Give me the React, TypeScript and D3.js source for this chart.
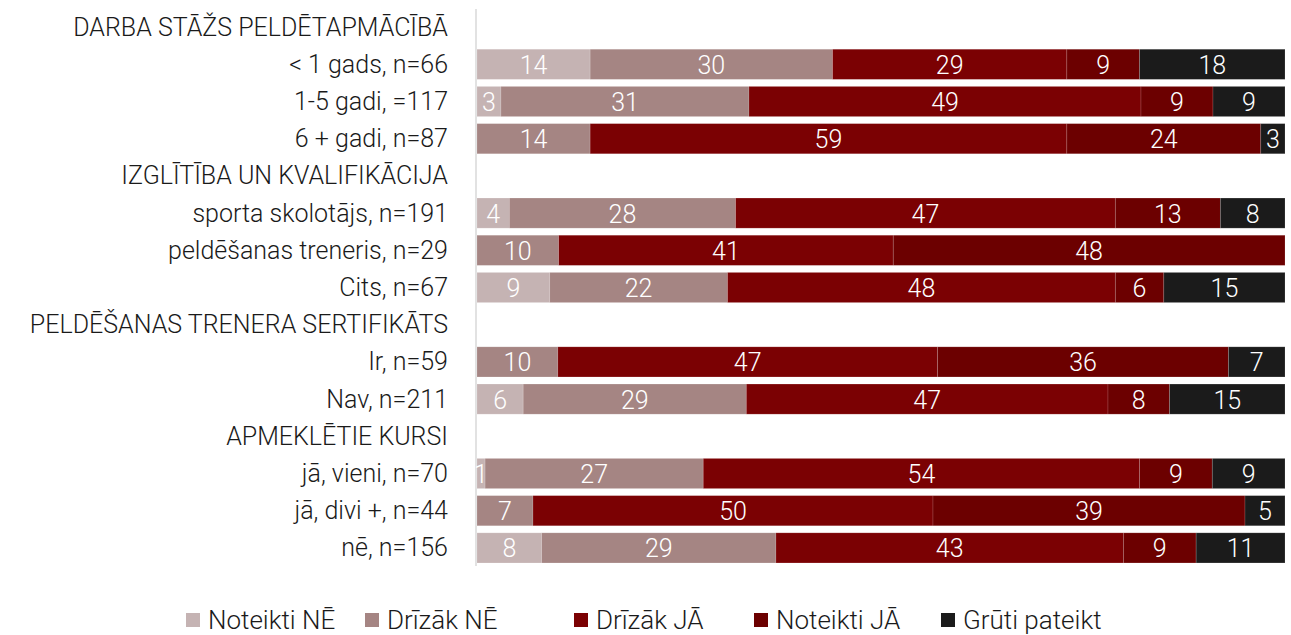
import React from "react";
import * as d3 from "d3";

// rows top to bottom; header rows have no bar
const rowLabels = [
  "DARBA STĀŽS PELDĒTAPMĀCĪBĀ",
  "< 1 gads, n=66",
  "1-5 gadi, =117",
  "6 + gadi, n=87",
  "IZGLĪTĪBA UN KVALIFIKĀCIJA",
  "sporta skolotājs, n=191",
  "peldēšanas treneris, n=29",
  "Cits, n=67",
  "PELDĒŠANAS TRENERA SERTIFIKĀTS",
  "Ir, n=59",
  "Nav, n=211",
  "APMEKLĒTIE KURSI",
  "jā, vieni, n=70",
  "jā, divi +, n=44",
  "nē, n=156",
];
const headerRows = [0, 4, 8, 11];

const seriesNames = ["Noteikti NĒ", "Drīzāk NĒ", "Drīzāk JĀ", "Noteikti JĀ", "Grūti pateikt"];
const seriesColors = ["#c5b3b3", "#a58583", "#7b0103", "#6c0000", "#1b1b1b"];

// values per bar row, in the same order as the series
const noteiktiNe = [14, 3, 0, 4, 0, 9, 0, 6, 1, 0, 8];
const drizakNe = [30, 31, 14, 28, 10, 22, 10, 29, 27, 7, 29];
const drizakJa = [29, 49, 59, 47, 41, 48, 47, 47, 54, 50, 43];
const noteiktiJa = [9, 9, 24, 13, 48, 6, 36, 8, 9, 39, 9];
const gruti = [18, 9, 3, 8, 0, 15, 7, 15, 9, 5, 11];

const W = 1291;
const H = 635;

export default function App() {
  const barRows = rowLabels.map((_, i) => i).filter((i) => !headerRows.includes(i));
  const cols = [noteiktiNe, drizakNe, drizakJa, noteiktiJa, gruti];
  const table = barRows.map((row, j) => {
    const d: any = { row };
    seriesNames.forEach((s, k) => (d[s] = cols[k][j]));
    return d;
  });

  const stacked = d3.stack<any>().keys(seriesNames).offset(d3.stackOffsetExpand)(table);

  const x = d3.scaleLinear().domain([0, 1]).range([477, 1285]);
  const y = d3.scaleBand<number>().domain(rowLabels.map((_, i) => i)).range([8.5, 566.5]).paddingInner(0.19).paddingOuter(0.095);

  const font = "Roboto, 'DejaVu Sans', sans-serif";
  const legendX = [186, 365, 574, 754, 941];

  return (
    <svg width={W} height={H} style={{ position: "absolute", left: 0, top: 0, background: "#fff" }}>
      <line x1={476} x2={476} y1={9} y2={566} stroke="#d9d9d9" strokeWidth={1.5} />
      {rowLabels.map((label, i) => (
        <text
          key={label}
          x={448}
          y={y(i)! + y.bandwidth() / 2}
          textAnchor="end"
          dominantBaseline="central"
          fontFamily={font}
          fontSize={25}
          fontWeight={300}
          fill="#1a1a1a"
        >
          {label}
        </text>
      ))}
      {stacked.map((layer, k) => (
        <g key={layer.key}>
          {layer.map((d, j) => {
            const v = cols[k][j];
            if (!v) return null;
            const x0 = x(d[0]);
            const x1 = x(d[1]);
            const row = d.data.row;
            return (
              <g key={j}>
                <rect
                  x={x0}
                  y={y(row)}
                  width={x1 - x0}
                  height={y.bandwidth()}
                  fill={seriesColors[k]}
                  stroke="rgba(255,255,255,0.18)"
                  strokeWidth={0.8}
                />
                <text
                  x={(x0 + x1) / 2}
                  y={y(row)! + y.bandwidth() / 2 + 1}
                  textAnchor="middle"
                  dominantBaseline="central"
                  fontFamily={font}
                  fontSize={25}
                  fontWeight={300}
                  fill="#fff"
                >
                  {v}
                </text>
              </g>
            );
          })}
        </g>
      ))}
      {seriesNames.map((s, k) => (
        <g key={s} transform={`translate(${legendX[k]},620)`}>
          <rect x={0} y={-7} width={14} height={14} fill={seriesColors[k]} />
          <text x={22} y={0} dominantBaseline="central" fontFamily={font} fontSize={26} fontWeight={300} fill="#1a1a1a">
            {s}
          </text>
        </g>
      ))}
    </svg>
  );
}
